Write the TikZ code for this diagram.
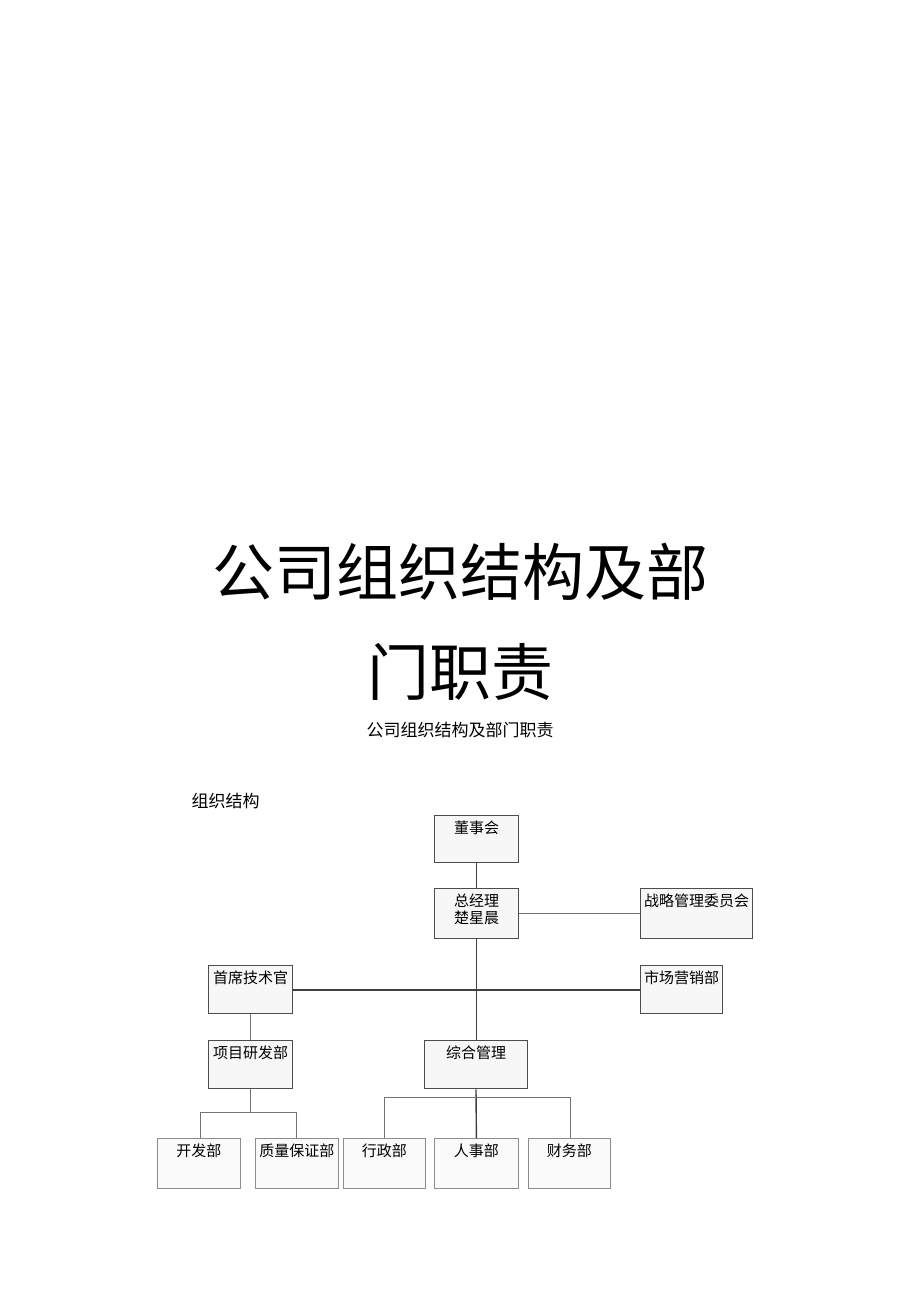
\documentclass[tikz,border=0pt]{standalone}
\usepackage{fontspec}
\newfontfamily\cjk{Noto Sans CJK SC}
\usetikzlibrary{positioning}
\tikzset{
    unit box/.style={draw=black!70, line width=1.3pt, fill=black!3, inner sep=0pt,
        font=\cjk\fontsize{15}{19}\selectfont, align=center},
    plain box/.style={draw=black!45, line width=0.8pt, fill=black!2, inner sep=0pt,
        font=\cjk\fontsize{15}{19}\selectfont, align=center},
    link/.style={line width=1.4pt, black!75},
    thin link/.style={line width=0.8pt, black!55}
}
% box from top-left (x,y) with size w x h, text at top
\newcommand{\orgbox}[7]{%
    \node[#1, minimum width=#4pt, minimum height=#5pt, anchor=north west] (#2) at (#3) {};
    \node[font=\cjk\fontsize{15}{19}\selectfont, align=center, anchor=north] (#2t) at ([yshift=-2pt]#2.north) {#6};
}
\begin{document}
\begin{tikzpicture}[x=1pt, y=-1pt]
    \useasboundingbox (0,0) rectangle (920,1303);
    % title
    \node[font=\cjk\fontsize{62}{70}\selectfont] (title1) at (460,572) {公司组织结构及部};
    \node[font=\cjk\fontsize{62}{70}\selectfont] (title2) at (460,672) {门职责};
    \node[font=\cjk\fontsize{17}{20}\selectfont] (sub) at (460,730) {公司组织结构及部门职责};
    \node[font=\cjk\fontsize{17}{20}\selectfont, anchor=west] (head) at (188,801) {组织结构};
    % boxes
    \orgbox{unit box}{board}{434,815}{84}{47}{董事会}{}
    \orgbox{unit box}{gm}{434,888}{84}{50}{总经理\\[-2pt]楚星晨}{}
    \orgbox{unit box}{strat}{640,888}{112}{50}{战略管理委员会}{}
    \orgbox{unit box}{cto}{208,965}{84}{48}{首席技术官}{}
    \orgbox{unit box}{mkt}{640,965}{82}{48}{市场营销部}{}
    \orgbox{unit box}{rd}{208,1040}{84}{48}{项目研发部}{}
    \orgbox{unit box}{admin}{424,1040}{103}{48}{综合管理}{}
    \orgbox{plain box}{dev}{157,1138}{83}{50}{开发部}{}
    \orgbox{plain box}{qa}{255,1138}{83}{50}{质量保证部}{}
    \orgbox{plain box}{office}{343,1138}{82}{50}{行政部}{}
    \orgbox{plain box}{hr}{434,1138}{84}{50}{人事部}{}
    \orgbox{plain box}{fin}{528,1138}{82}{50}{财务部}{}
    % connectors
    \coordinate (hub) at (476,990);
    \draw[link] (board) -- (gm);
    \draw[link] (gm) -- (admin.north -| gm.south);
    \draw[thin link] (gm) -- (strat);
    \draw[link] (cto.east |- hub) -- (mkt.west |- hub);
    \draw[thin link] (cto) -- (rd);
    \coordinate (lsplit) at (250,1112);
    \draw[thin link] (rd.south -| lsplit) -- (lsplit);
    \draw[thin link] (dev.north -| 200,0) |- (lsplit) -| (qa.north -| 296,0);
    \coordinate (rsplit) at (476,1097);
    \draw[link] (admin.south -| rsplit) -- (hr.north);
    \draw[thin link] (office.north -| 384,0) |- (rsplit) -| (fin.north -| 570,0);
\end{tikzpicture}
\end{document}
